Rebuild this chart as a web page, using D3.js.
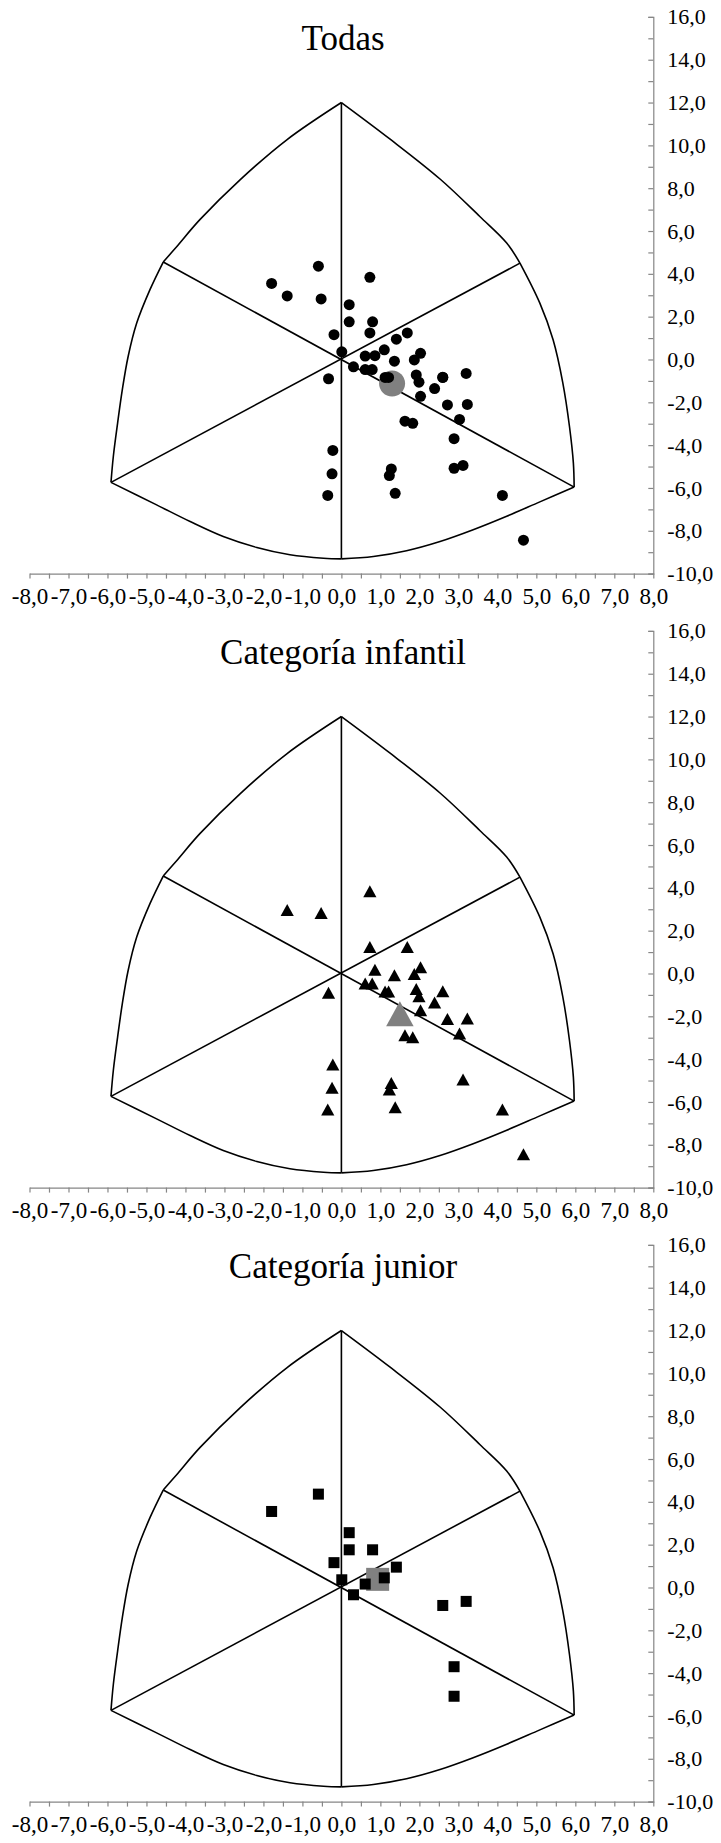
<!DOCTYPE html>
<html>
<head>
<meta charset="utf-8">
<script src="https://cdn.jsdelivr.net/npm/d3@7"></script>
<style>
  html, body { margin: 0; padding: 0; background: #fff; }
  svg { display: block; }
  text { font-family: "Liberation Serif", "Times New Roman", serif; fill: #000; }
</style>
</head>
<body>
<script>
// Somatochart panels: X = ectomorphy - endomorphy, Y = 2*mesomorphy - (endo + ecto)

const panelTitles = ["Todas", "Categoría infantil", "Categoría junior"];

// Infant category subjects
const infantilX = [0.73, -1.39, -0.52, 0.73, 1.69, 0.86, 1.36, 2.03, 1.87, 0.61, 0.79, 1.12, 1.21,
                   1.92, 1.99, 2.60, 2.39, 2.03, -0.33, 2.72, 3.23, 3.03, 1.63, 1.83, -0.22, -0.24,
                   -0.35, 1.28, 1.23, 1.38, 3.12, 4.13, 4.67];
const infantilY = [3.84, 2.97, 2.83, 1.24, 1.24, 0.18, -0.08, 0.29, -0.02, -0.47, -0.47, -0.84, -0.84,
                   -0.72, -1.06, -0.83, -1.36, -1.72, -0.90, -2.12, -2.10, -2.80, -2.88, -2.98, -4.25, -5.34,
                   -6.35, -5.11, -5.42, -6.25, -4.95, -6.35, -8.44];

// Junior category subjects
const juniorX = [-0.59, -1.79, 0.20, 0.20, 0.80, -0.19, 1.41, 0.01, 1.10, 0.61, 0.31, 2.60, 3.20, 2.89, 2.89];
const juniorY = [4.36, 3.55, 2.56, 1.76, 1.76, 1.16, 0.95, 0.36, 0.45, 0.16, -0.34, -0.84, -0.65, -3.70, -5.08];

// Mean somatopoints (x, y)
const meanTodas = [1.30, -1.12];
const meanInfantil = [1.50, -1.88];
const meanJunior = [0.93, 0.38];

// Axis ticks
const xTicks = d3.range(-8, 8.01, 0.5);
const yTicks = d3.range(-10, 16.01, 1);

// Somatochart outline in chart units: six boundary arcs, vertex to vertex
const arcTopLeft = [[0, 12], [-1.40, 10.26], [-2.60, 8.39], [-3.63, 6.53], [-4.22, 5.28], [-4.57, 4.55]];
const arcLeft = [[-4.57, 4.55], [-4.91, 3.26], [-5.25, 1.70], [-5.47, 0.14], [-5.62, -1.42], [-5.74, -2.97], [-5.85, -4.53], [-5.91, -5.74]];
const arcBottomLeft = [[-5.91, -5.74], [-4.74, -6.79], [-3.88, -7.57], [-3.03, -8.27], [-2.17, -8.78], [-1.32, -9.12], [-0.46, -9.28], [0, -9.31]];
const arcBottomRight = [[0, -9.31], [0.82, -9.20], [1.67, -8.93], [2.53, -8.50], [3.38, -7.95], [4.24, -7.32], [5.09, -6.65], [5.97, -5.96]];
const arcRight = [[5.97, -5.96], [5.95, -4.84], [5.85, -3.13], [5.68, -1.10], [5.43, 0.92], [5.09, 2.63], [4.58, 4.50]];
const arcTopRight = [[4.58, 4.50], [4.24, 5.44], [3.55, 6.68], [2.53, 8.43], [1.25, 10.29], [0, 12]];
// Three axes through the origin
const spokes = [[[0, 12], [0, -9.31]], [[-4.57, 4.55], [5.97, -5.96]], [[4.58, 4.50], [-5.91, -5.74]]];

const W = 721, H = 1843;
const panelH = 614;

const locale = d3.formatLocale({ decimal: ",", thousands: ".", grouping: [3], currency: ["", ""], minus: "-" });
const fmt = locale.format(".1f");

const svg = d3.select("body").append("svg").attr("width", W).attr("height", H);
svg.append("rect").attr("width", W).attr("height", H).attr("fill", "#fff");

const x = d3.scaleLinear().domain([-8, 8]).range([29.5, 653.3]);

const panels = [
  { title: panelTitles[0], xs: infantilX.concat(juniorX), ys: infantilY.concat(juniorY), mean: meanTodas, shape: "circle" },
  { title: panelTitles[1], xs: infantilX, ys: infantilY, mean: meanInfantil, shape: "triangle" },
  { title: panelTitles[2], xs: juniorX, ys: juniorY, mean: meanJunior, shape: "square" }
];

function marker(sel, shape, px, py, size, color) {
  if (shape === "circle") {
    sel.append("circle").attr("cx", px).attr("cy", py).attr("r", size / 2).attr("fill", color);
  } else if (shape === "square") {
    sel.append("rect").attr("x", px - size / 2).attr("y", py - size / 2)
      .attr("width", size).attr("height", size).attr("fill", color);
  } else {
    const w = size * 1.1, h = size;
    sel.append("path")
      .attr("d", `M${px},${py - h / 2}L${px + w / 2},${py + h / 2}L${px - w / 2},${py + h / 2}Z`)
      .attr("fill", color);
  }
}

panels.forEach((p, i) => {
  const oy = i * panelH;
  const y = d3.scaleLinear().domain([-10, 16]).range([573.6 + oy, 16.9 + oy]);
  const g = svg.append("g");

  // title
  g.append("text")
    .attr("x", 343).attr("y", 50 + oy)
    .attr("text-anchor", "middle")
    .attr("font-size", 35)
    .text(p.title);

  // x axis along y = -10
  const xAxis = g.append("g")
    .attr("transform", `translate(0,${y(-10)})`)
    .call(d3.axisBottom(x).tickValues(xTicks).tickSize(5).tickSizeOuter(0).tickPadding(9)
      .tickFormat(d => Number.isInteger(d) ? fmt(d) : ""));
  // y axis along x = 8, labels to the right
  const yAxis = g.append("g")
    .attr("transform", `translate(${x(8)},0)`)
    .call(d3.axisRight(y).tickValues(yTicks).tickSize(-5).tickSizeOuter(-5).tickPadding(14)
      .tickFormat(d => d % 2 === 0 ? fmt(d) : ""));
  [xAxis, yAxis].forEach(a => {
    a.attr("font-family", null).attr("font-size", null);
    a.selectAll("path, line").attr("stroke", "#868686").attr("stroke-width", 1.2);
    a.selectAll("text").style("fill", "#000")
      .style("font-family", "'Liberation Serif', 'Times New Roman', serif");
  });
  xAxis.selectAll("text").style("font-size", "23px");
  yAxis.selectAll("text").style("font-size", "22px");

  // outline
  const line = d3.line().x(d => x(d[0])).y(d => y(d[1]));
  const curve = d3.line().x(d => x(d[0])).y(d => y(d[1])).curve(d3.curveCatmullRom.alpha(0.5));
  [arcTopLeft, arcLeft, arcBottomLeft, arcBottomRight, arcRight, arcTopRight].forEach(a => {
    g.append("path").attr("d", curve(a)).attr("fill", "none").attr("stroke", "#000").attr("stroke-width", 1.6);
  });
  spokes.forEach(s => {
    g.append("path").attr("d", line(s)).attr("fill", "none").attr("stroke", "#000").attr("stroke-width", 1.6);
  });

  // mean somatopoint (underneath)
  const bigSize = p.shape === "circle" ? 26 : (p.shape === "triangle" ? 25 : 23);
  marker(g, p.shape, x(p.mean[0]), y(p.mean[1]), bigSize, "#808080");

  // individual somatopoints
  const smallSize = p.shape === "circle" ? 11 : (p.shape === "triangle" ? 12 : 11);
  p.xs.forEach((v, k) => marker(g, p.shape, x(v), y(p.ys[k]), smallSize, "#000"));
});
</script>
</body>
</html>
